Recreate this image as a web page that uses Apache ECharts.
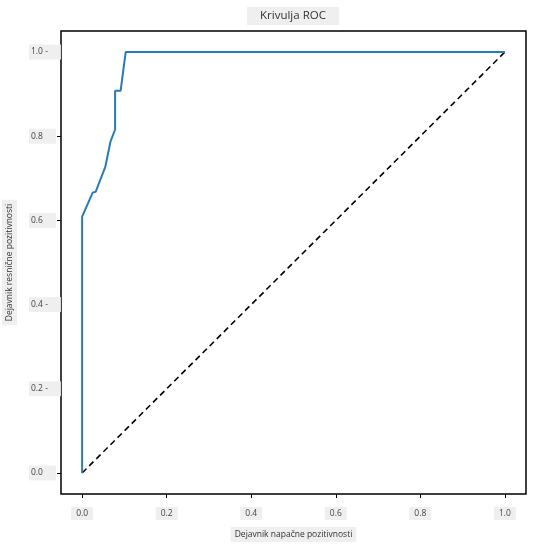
<!DOCTYPE html>
<html>
<head>
<meta charset="utf-8">
<script src="https://cdn.jsdelivr.net/npm/echarts@6/dist/echarts.min.js"></script>
<style>
  html, body { margin: 0; padding: 0; background: #fff; }
  #chart { width: 536px; height: 547px; }
</style>
</head>
<body>
<div id="chart"></div>
<script>
// ROC krivulja
const fpr = [0, 0, 0.025, 0.032, 0.055, 0.067, 0.078, 0.078, 0.091, 0.103, 1];
const tpr = [0, 0.609, 0.666, 0.668, 0.728, 0.787, 0.816, 0.908, 0.908, 1.0, 1.0];
const diagX = [0, 1];
const diagY = [0, 1];

const tickValues = [0, 0.2, 0.4, 0.6, 0.8, 1.0];
const xTickLabels = ['0.0', '0.2', '0.4', '0.6', '0.8', '1.0'];
const yTickLabels = ['0.0', '0.2 -', '0.4 -', '0.6', '0.8', '1.0 -'];

const font = "'Open Sans', 'Noto Sans', sans-serif";
const boxBg = '#efefef';
const textColor = '#444';

const labelFor = (labels) => (v) => {
    const i = tickValues.findIndex(t => Math.abs(t - v) < 1e-6);
    return i >= 0 ? labels[i] : '';
};

const chart = echarts.init(document.getElementById('chart'), null, { renderer: 'canvas' });

chart.setOption({
    animation: false,
    title: {
        text: 'Krivulja ROC',
        left: 247,
        top: 7,
        padding: [3, 13],
        backgroundColor: boxBg,
        textStyle: {
            color: '#333',
            fontFamily: font,
            fontSize: 11.5,
            fontWeight: 'normal'
        }
    },
    grid: {
        left: 61,
        right: 10,
        top: 31,
        bottom: 53,
        outerBoundsMode: 'none',
        containLabel: false,
        show: true,
        borderColor: '#000',
        borderWidth: 1.5,
        backgroundColor: '#fff'
    },
    xAxis: {
        type: 'value',
        min: -0.05,
        max: 1.05,
        name: 'Dejavnik napačne pozitivnosti',
        nameLocation: 'middle',
        nameGap: 33,
        nameTextStyle: {
            color: '#333',
            fontFamily: font,
            fontSize: 8.5,
            backgroundColor: boxBg,
            padding: [3, 4]
        },
        axisLine: { show: false, onZero: false },
        splitLine: { show: false },
        axisTick: {
            show: true,
            length: 4,
            customValues: tickValues,
            lineStyle: { color: '#000', width: 1 }
        },
        axisLabel: {
            customValues: tickValues,
            formatter: labelFor(xTickLabels),
            margin: 13,
            color: textColor,
            fontFamily: font,
            fontSize: 8.5,
            backgroundColor: boxBg,
            padding: [2, 5]
        }
    },
    yAxis: {
        type: 'value',
        min: -0.05,
        max: 1.05,
        name: 'Dejavnik resnične pozitivnosti',
        nameLocation: 'middle',
        nameGap: 44,
        nameRotate: 90,
        nameTextStyle: {
            color: '#333',
            fontFamily: font,
            fontSize: 8.5,
            backgroundColor: boxBg,
            padding: [3, 4]
        },
        axisLine: { show: false, onZero: false },
        splitLine: { show: false },
        axisTick: {
            show: true,
            length: 4,
            customValues: tickValues,
            lineStyle: { color: '#000', width: 1 }
        },
        axisLabel: {
            customValues: tickValues,
            formatter: labelFor(yTickLabels),
            align: 'left',
            margin: 32,
            color: textColor,
            fontFamily: font,
            fontSize: 8.5,
            backgroundColor: boxBg,
            padding: [3, 13, 3, 2]
        }
    },
    series: [
        {
            name: 'ROC',
            type: 'line',
            data: fpr.map((x, i) => [x, tpr[i]]),
            showSymbol: false,
            lineStyle: { color: '#2a7ab5', width: 2 },
            z: 3
        },
        {
            name: 'Naključno',
            type: 'line',
            data: diagX.map((x, i) => [x, diagY[i]]),
            showSymbol: false,
            lineStyle: { color: '#000', width: 1.6, type: [6, 4] },
            z: 2
        }
    ]
});
</script>
</body>
</html>
